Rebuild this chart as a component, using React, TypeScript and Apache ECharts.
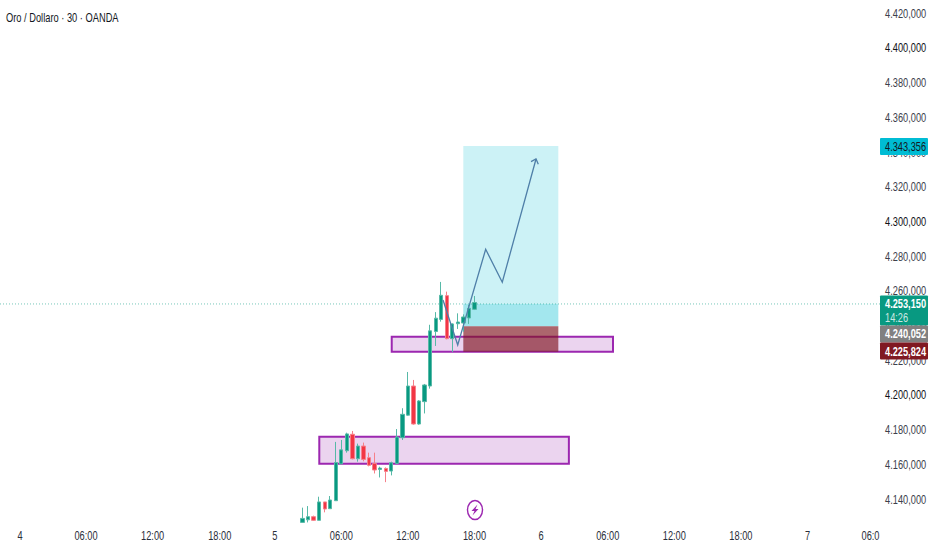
import React, { useEffect, useRef } from "react";
import * as echarts from "echarts";

const FONT = "'Liberation Sans', sans-serif";
const SQUEEZE = 0.74;

const titleText = "Oro / Dollaro · 30 · OANDA";
const slotCount = 159;
const timeTickSlots = [3.1, 15, 27, 39.1, 49, 61, 73, 85, 97, 109, 121, 133, 145, 156.35];
const timeTickLabels = ["4", "06:00", "12:00", "18:00", "5", "06:00", "12:00", "18:00", "6", "06:00", "12:00", "18:00", "7", "06:0"];
const priceTicks = [4140, 4160, 4180, 4200, 4220, 4240, 4260, 4280, 4300, 4320, 4340, 4360, 4380, 4400, 4420];
const priceTickLabels = ["4.140,000", "4.160,000", "4.180,000", "4.200,000", "4.220,000", "4.240,000", "4.260,000", "4.280,000", "4.300,000", "4.320,000", "4.340,000", "4.360,000", "4.380,000", "4.400,000", "4.420,000"];
const strongPrices = [4400, 4300, 4200];

const firstCandleSlot = 54;
const opens = [4126.4, 4127.9, 4129.7, 4127.6, 4138.2, 4134.3, 4138.9, 4160.1, 4167.7, 4177.2, 4163.1, 4170.4, 4163.7, 4160.4, 4156.9, 4157.5, 4156, 4160.4, 4175.2, 4188.2, 4205, 4183.1, 4196, 4205, 4236.4, 4243.4, 4257.1, 4232.3, 4240.9, 4241.3, 4244.2, 4249.2];
const closes = [4128.7, 4129.7, 4127.6, 4138.2, 4134.1, 4139.3, 4160.9, 4168.2, 4177.4, 4163.1, 4170.4, 4162.7, 4159.3, 4156.6, 4157.7, 4155.8, 4160.8, 4175.6, 4188.7, 4205, 4183.1, 4196.4, 4205.6, 4236.8, 4244.1, 4257.3, 4232.3, 4240.8, 4241.9, 4244.8, 4249.8, 4253.15];
const lows = [4126.4, 4126.4, 4127.2, 4127.6, 4132.2, 4134.3, 4138.9, 4160.1, 4166.6, 4162.7, 4161.4, 4161.6, 4158.7, 4154.6, 4152.3, 4149.6, 4153.5, 4160, 4173.9, 4187.9, 4182.7, 4182.7, 4189.2, 4203.5, 4228.1, 4242.1, 4231.9, 4224.6, 4237.9, 4236.3, 4240.8, 4248.8];
const highs = [4134.9, 4135.8, 4130.3, 4141.2, 4138.2, 4141.6, 4172.8, 4173.9, 4178.1, 4179.1, 4171.8, 4172.4, 4166.6, 4166.6, 4158.5, 4158.1, 4161.4, 4180.2, 4192.2, 4213.1, 4208.5, 4196.9, 4206.2, 4240.3, 4247.6, 4265, 4259.4, 4241.1, 4246.9, 4246.3, 4251.7, 4256.9];

// slot from, price from, slot to, price to, style index
const zones = [
  [57.03, 4175.8, 102, 4160.2, 0],
  [70.08, 4233.4, 109.95, 4224.8, 0],
  [82.98, 4343.356, 100.1, 4239.4, 1],
  [82.98, 4252.3, 100.1, 4239.4, 1],
  [82.98, 4239.4, 100.1, 4224.8, 2],
];

const currentLinePrice = 4252.3;
const arrowSlots = [79.32, 81.97, 87.01, 90.0, 96.08];
const arrowPrices = [4254.6, 4228.65, 4283.8, 4264.8, 4335.85];
const headSlots = [95.18, 96.08, 96.49];
const headPrices = [4334.3, 4335.85, 4332.8];

const priceTags = ["4.343,356", "4.253,150", "14:26", "4.240,052", "4.225,824"];

const zoneStyles = [
  { fill: "rgba(156,39,176,0.2)", stroke: "#9c27b0", lineWidth: 2 },
  { fill: "rgba(0,188,212,0.2)" },
  { fill: "rgba(128,20,30,0.65)" },
];

const categories = Array.from({ length: slotCount }, (_, i) => String(i));
const candles = opens.map((o, i) => [firstCandleSlot + i, o, closes[i], lows[i], highs[i]]);

const tag = (y: number, h: number, fill: string) => ({
  type: "rect",
  z: 50,
  shape: { x: 880, y, width: 48, height: h, r: 1 },
  style: { fill },
});
const tagText = (text: string, y: number, fill: string, weight = "normal", opacity = 1) => ({
  type: "text",
  z: 51,
  x: 885,
  y,
  scaleX: SQUEEZE,
  style: { text, fill, opacity, font: `${weight} 12.5px ${FONT}`, verticalAlign: "middle", align: "left" },
});

export default function App() {
  const ref = useRef<HTMLDivElement>(null);
  useEffect(() => {
    document.body.style.margin = "0";
    const chart = echarts.init(ref.current!, null, { renderer: "svg" });
    chart.setOption({
      animation: false,
      backgroundColor: "#ffffff",
      grid: { left: 0, top: 13, width: 882.45, height: 520.5, containLabel: false, outerBoundsMode: "none" },
      xAxis: [
        {
          type: "category",
          data: categories,
          axisLine: { show: false },
          axisTick: { show: false },
          splitLine: { show: false },
          axisLabel: { show: false },
        },
        { type: "value", min: -0.5, max: 158.5, show: false },
      ],
      yAxis: {
        type: "value",
        position: "right",
        min: 4120,
        max: 4420,
        interval: 20,
        scale: true,
        axisLine: { show: false },
        axisTick: { show: false },
        splitLine: { show: false },
        axisLabel: { show: false },
      },
      series: [
        {
          type: "custom",
          xAxisIndex: 1,
          z: 1,
          silent: true,
          clip: false,
          data: zones,
          renderItem: (_: any, api: any) => {
            const a = api.coord([api.value(0), api.value(1)]);
            const b = api.coord([api.value(2), api.value(3)]);
            return {
              type: "rect",
              shape: { x: a[0], y: a[1], width: b[0] - a[0], height: b[1] - a[1] },
              style: zoneStyles[api.value(4)],
            };
          },
        },
        {
          type: "candlestick",
          xAxisIndex: 0,
          z: 2,
          barWidth: 3.8,
          silent: true,
          encode: { x: 0, y: [1, 2, 3, 4] },
          data: candles,
          itemStyle: {
            color: "#089981",
            color0: "#f23645",
            borderColor: "#57b9a7",
            borderColor0: "#f6808a",
            borderWidth: 1,
          },
        },
        {
          type: "custom",
          xAxisIndex: 1,
          z: 3,
          silent: true,
          clip: false,
          data: [[arrowSlots[0], arrowPrices[0]]],
          renderItem: (_: any, api: any) => {
            const pts = (xs: number[], ys: number[]) => xs.map((x, i) => api.coord([x, ys[i]]));
            const left = api.coord([-0.5, currentLinePrice]);
            const right = api.coord([158.5, currentLinePrice]);
            const arrowStyle = { stroke: "#4f7fa8", lineWidth: 1.3, fill: "none" };
            return {
              type: "group",
              children: [
                {
                  type: "line",
                  shape: { x1: left[0], y1: left[1], x2: right[0], y2: right[1] },
                  style: { stroke: "#089981", lineWidth: 1, opacity: 0.55, lineDash: [1, 2] },
                },
                { type: "polyline", shape: { points: pts(arrowSlots, arrowPrices) }, style: arrowStyle },
                { type: "polyline", shape: { points: pts(headSlots, headPrices) }, style: arrowStyle },
              ],
            };
          },
        },
        {
          type: "custom",
          xAxisIndex: 1,
          z: 4,
          silent: true,
          clip: false,
          data: priceTicks.map((p) => [158.5, p]),
          renderItem: (params: any, api: any) => {
            const c = api.coord([api.value(0), api.value(1)]);
            return {
              type: "text",
              x: c[0] + 2.6,
              y: c[1] + 0.2,
              scaleX: SQUEEZE,
              style: {
                text: priceTickLabels[params.dataIndex],
                font: `12.5px ${FONT}`,
                fill: strongPrices.includes(api.value(1)) ? "#0f1115" : "#3c404b",
                align: "left",
                verticalAlign: "middle",
              },
            };
          },
        },
        {
          type: "custom",
          xAxisIndex: 1,
          z: 4,
          silent: true,
          clip: false,
          data: timeTickSlots.map((s) => [s, 4120]),
          renderItem: (params: any, api: any) => {
            const c = api.coord([api.value(0), api.value(1)]);
            return {
              type: "text",
              x: c[0],
              y: c[1] + 2.2,
              scaleX: SQUEEZE,
              style: {
                text: timeTickLabels[params.dataIndex],
                font: `12.5px ${FONT}`,
                fill: "#2a2e39",
                align: "center",
                verticalAlign: "middle",
              },
            };
          },
        },
      ],
      graphic: [
        {
          type: "text",
          x: 6,
          y: 17,
          scaleX: 0.715,
          style: { text: titleText, fill: "#131722", font: `13px ${FONT}`, verticalAlign: "middle", align: "left" },
        },
        tag(138, 17, "#00bcd4"),
        tagText(priceTags[0], 146.5, "#131722"),
        tag(295.5, 30, "#089981"),
        tagText(priceTags[1], 303, "#ffffff", "bold"),
        tagText(priceTags[2], 317.5, "#ffffff", "normal", 0.8),
        tag(325.5, 17, "#808080"),
        tagText(priceTags[3], 333.5, "#ffffff", "bold"),
        tag(342.5, 17, "#801922"),
        tagText(priceTags[4], 351, "#ffffff", "bold"),
        {
          type: "ellipse",
          z: 10,
          shape: { cx: 475, cy: 510, rx: 7.5, ry: 9.5 },
          style: { fill: "none", stroke: "#9c27b0", lineWidth: 1.4 },
        },
        {
          type: "polygon",
          z: 10,
          shape: { points: [[477.5, 504.5], [471.5, 511], [474.5, 511], [472.5, 515.5], [478.5, 509], [475.5, 509]] },
          style: { fill: "#9c27b0" },
        },
      ],
    });
    return () => chart.dispose();
  }, []);
  return <div ref={ref} style={{ width: 932, height: 550 }} />;
}
